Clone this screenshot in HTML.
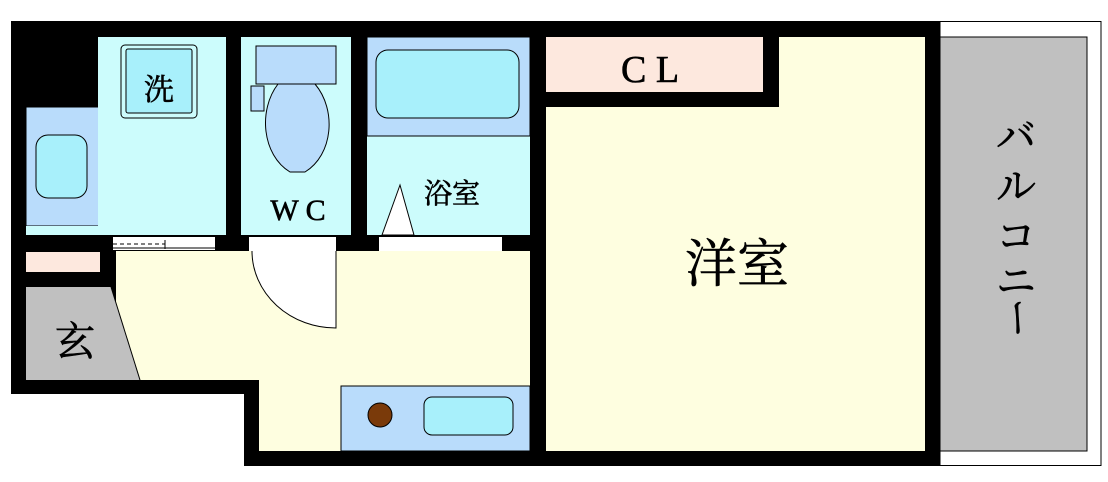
<!DOCTYPE html>
<html><head><meta charset="utf-8"><style>
html,body{margin:0;padding:0;background:#fff;width:1108px;height:482px;overflow:hidden}
svg{display:block}
text{font-family:"Liberation Serif","Noto Serif CJK SC",serif;fill:#000;stroke:#000;stroke-width:0.6}
</style></head><body>
<svg width="1108" height="482" viewBox="0 0 1108 482" xmlns="http://www.w3.org/2000/svg">
<rect x="940" y="21.5" width="161" height="444" fill="#fff" stroke="#000" stroke-width="1"/>
<rect x="940" y="37" width="147" height="414" fill="#c0c0c0" stroke="#000" stroke-width="1"/>
<polygon points="11,21 940,21 940,466 244,466 244,394 11,394" fill="#000"/>
<rect x="26" y="107" width="73" height="119" fill="#b9dcfb" stroke="#000" stroke-width="1"/>
<rect x="36" y="135" width="51" height="63" rx="12" fill="#a8f0fb" stroke="#000" stroke-width="1"/>
<rect x="26" y="226" width="200" height="9" fill="#ccfcfc"/>
<rect x="98" y="37" width="128" height="198" fill="#ccfcfc"/>
<rect x="121" y="45" width="76" height="73" rx="4" fill="#ccfcfc" stroke="#000" stroke-width="1"/>
<rect x="126" y="49" width="66" height="64" rx="2" fill="#a8f0fb" stroke="#000" stroke-width="1"/>
<text x="159" y="100" font-size="30" text-anchor="middle">洗</text>
<rect x="241" y="37" width="110" height="198" fill="#ccfcfc"/>
<rect x="256" y="46" width="80" height="38" fill="#b9dcfb" stroke="#000" stroke-width="1"/>
<rect x="251" y="86" width="13" height="25" fill="#b9dcfb" stroke="#000" stroke-width="1"/>
<path d="M278,84 C258,110 262,155 290,172 L305,172 C333,155 337,110 315,84 Z" fill="#b9dcfb" stroke="#000" stroke-width="1"/>
<text x="298" y="220" font-size="30" text-anchor="middle">W C</text>
<rect x="367" y="37" width="163" height="198" fill="#ccfcfc"/>
<rect x="367" y="37" width="163" height="99" fill="#b9dcfb" stroke="#000" stroke-width="1"/>
<rect x="376" y="50" width="143" height="68" rx="12" fill="#a8f0fb" stroke="#000" stroke-width="1"/>
<polygon points="400,185 382,235 414,235" fill="#fff" stroke="#000" stroke-width="1"/>
<text x="452" y="203" font-size="28" text-anchor="middle">浴室</text>
<rect x="546" y="37" width="217" height="55" fill="#fde8de"/>
<text x="650" y="82" font-size="38" text-anchor="middle">C L</text>
<polygon points="779,37 925,37 925,451 546,451 546,107 779,107" fill="#fefee0"/>
<text x="737" y="282" font-size="52" text-anchor="middle">洋室</text>
<text font-size="40" x="1016" y="150" text-anchor="middle">バ</text>
<text font-size="40" x="1016" y="200" text-anchor="middle">ル</text>
<text font-size="40" x="1016" y="250" text-anchor="middle">コ</text>
<text font-size="40" x="1016" y="295" text-anchor="middle">ニ</text>
<text font-size="40" x="1016" y="330" text-anchor="middle" transform="rotate(90 1016 318)">ー</text>
<polygon points="116,251 530,251 530,451 259,451 259,380 116,380" fill="#fefee0"/>
<polygon points="26,287 111,287 140,380 26,380" fill="#c0c0c0"/>
<line x1="111" y1="287" x2="140" y2="380" stroke="#000" stroke-width="1"/>
<text x="75" y="355" font-size="40" text-anchor="middle">玄</text>
<rect x="26" y="252" width="74" height="20" fill="#fde8de"/>
<rect x="113" y="237" width="102" height="13" fill="#fff"/>
<line x1="113" y1="244" x2="165" y2="244" stroke="#000" stroke-width="1" stroke-dasharray="4,3"/>
<line x1="165" y1="240" x2="165" y2="249" stroke="#000" stroke-width="1"/>
<line x1="113" y1="248" x2="215" y2="248" stroke="#000" stroke-width="1"/>
<rect x="249" y="237" width="87" height="14" fill="#fff"/>
<rect x="379" y="237" width="123" height="14" fill="#fff"/>
<path d="M336,251 L252,251 A84,77 0 0 0 336,328 Z" fill="#fff"/>
<path d="M252,251 A84,77 0 0 0 336,328 L336,251" fill="none" stroke="#000" stroke-width="1"/>
<rect x="341" y="386" width="189" height="65" fill="#b9dcfb" stroke="#000" stroke-width="1"/>
<circle cx="380" cy="415" r="12" fill="#7a3a0a" stroke="#000" stroke-width="1"/>
<rect x="424" y="397" width="89" height="38" rx="8" fill="#a8f0fb" stroke="#000" stroke-width="1"/>
</svg>
</body></html>
